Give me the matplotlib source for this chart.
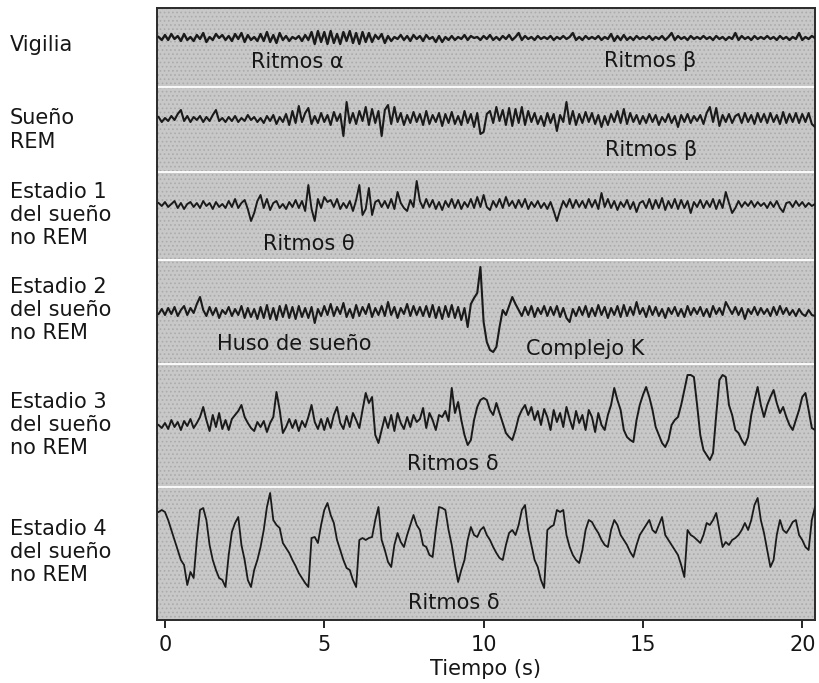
import numpy as np
import matplotlib
matplotlib.use("Agg")
import matplotlib.pyplot as plt
from matplotlib.patches import Rectangle

plt.rcParams["font.family"] = ["DejaVu Sans"]
plt.rcParams["hatch.linewidth"] = 0.7

# sampling of the traces (s)
T_START = -0.2
T_STEP = 0.1

# trace deflections (upward positive, arbitrary units)
vigilia = [
    1, -2,
    3, -2, 4, -1, 2, -3, 4, -2, 1, -3,
    3, -1, 5, -4, 1, -2, 4, 0, 3, -2,
    2, -3, 4, -1, 5, -4, 3, -2, 1, -3,
    4, -3, 6, -4, 3, -5, 5, -2, 2, -3,
    1, -1, 2, -3, 3, -2, 6, -6, 7, -4,
    6, -6, 7, -5, 4, -6, 6, -3, 7, -5,
    5, -6, 6, -4, 5, -4, 3, -1, 4, -5,
    2, -3, 1, -1, 3, -2, 2, -3, 3, -1,
    2, -3, 3, -1, 1, -4, 2, -4, 1, -2,
    2, -2, 1, -1, 3, -2, 2, 0, 1, -2,
    2, -1, 3, -2, 1, -2, 2, -1, 3, -2,
    1, 5, -2, 2, -1, 1, -2, 2, -1, 1,
    -1, 2, -2, 1, -1, 2, -1, 1, 5, -2,
    1, -2, 2, -1, 1, -1, 2, -2, 1, -1,
    4, -3, 2, -2, 3, -2, 1, -2, 2, -1,
    1, -1, 2, -2, 1, -1, 2, -2, 1, 5,
    -2, 2, -1, 1, -2, 2, -1, 1, -1, 2,
    -1, 1, -2, 2, -1, 1, -2, 1, -1, 5,
    -2, 2, -1, 1, -2, 2, -1, 1, -1, 2,
    -1, 1, -2, 2, -1, 1, -2, 1, -1, 5,
    -2, 1, -1, 2, 0,
]
sueno_rem = [
    2, -3,
    1, -2, 3, -1, 5, 9, -2, 3, -3, 2,
    -1, 3, -3, 2, -2, 4, 9, -2, 1, -3,
    2, -2, 3, -3, 1, -2, 4, -1, 2, -3,
    1, -4, 3, -2, 4, -5, 2, -3, 5, -6,
    8, -4, 13, -3, 6, 11, -5, 3, -4, 6,
    -3, 4, -6, 7, -2, 5, -17, 17, -4, 6,
    -5, 8, -2, 12, -6, 10, -4, 8, -17, 9,
    14, -5, 12, -3, 6, -6, 4, -4, 7, -3,
    5, -6, 8, -5, 4, -3, 6, -7, 5, -4,
    7, -5, 3, -6, 8, -4, 5, -8, 6, -15,
    -13, 5, 8, -4, 12, -2, 9, -6, 11, -7,
    10, -4, 12, -6, 8, -3, 6, -5, 3, -7,
    6, -4, 5, -12, 4, -3, 17, -5, 8, -6,
    5, -4, 7, -3, 6, -5, 4, -8, 3, -6,
    5, -3, 8, -4, 10, -5, 6, -3, 4, -5,
    3, -4, 5, -3, 4, -6, 2, -3, 5, -4,
    3, -8, 4, -3, 5, -4, 3, -2, 4, -5,
    6, 12, -3, 11, -7, 4, -3, 5, -4, 3,
    5, -4, 6, -3, 4, -5, 6, -3, 5, -4,
    6, -3, 4, -5, 7, -4, 5, -3, 6, -4,
    5, -3, 6, -5, -8,
]
estadio1 = [
    2, -1,
    3, -2, 1, 4, -3, 2, -4, 1, 3, -2,
    2, -3, 4, -1, 2, -4, 3, -2, 1, -3,
    4, -2, 6, -3, 2, 5, -4, -16, -8, 4,
    10, -3, 6, -5, 2, 4, -3, 1, -4, 3,
    -2, 5, -3, 4, -6, 20, -4, -16, 6, -3,
    8, 3, 5, -2, 6, -4, 2, -3, 4, -6,
    5, 20, -10, -4, 17, -10, 3, 5, -2, 4,
    -3, 6, -4, 13, 2, -3, -6, 5, -2, 24,
    4, -3, 6, -2, 5, -4, 3, -5, 4, -2,
    6, -3, 5, -4, 3, -2, 6, -3, 8, -2,
    10, -2, -5, 4, -2, 6, -3, 8, -1, 4,
    -3, 5, -2, 6, -4, 3, -2, 4, -3, 2,
    -4, 3, -6, -16, -5, 4, -2, 6, -3, 5,
    -2, 4, -3, 6, -2, 5, -4, 12, -2, 6,
    -3, 4, -5, 3, -2, 5, -4, 3, -7, 2,
    4, -3, 6, -4, 5, -3, 7, -5, 4, -3,
    6, -4, 5, -3, 4, -8, 3, -2, 5, -3,
    4, -2, 6, -4, 5, -3, 13, 2, -8, -3,
    4, -2, 3, -1, 4, -2, 3, -1, 2, -3,
    3, -2, 4, -3, -7, 2, 3, -2, 4, -1,
    3, -2, 2, -1, 1,
]
estadio2 = [
    -2, 3,
    -3, 4, -2, 5, -4, 2, 6, -3, 4, -1,
    8, 15, 2, -4, 5, -3, 4, -6, 2, -2,
    5, -4, 3, -3, 6, -6, 4, -5, 3, -7,
    5, -6, 7, -7, 4, -8, 6, -5, 7, -6,
    5, -7, 6, -5, 4, -6, 5, -11, 3, -4,
    6, -3, 8, -4, 5, -2, 9, -5, 3, -6,
    7, -4, 5, -2, 8, -5, 4, -3, 6, -4,
    10, -3, 5, -6, 4, -2, 8, -4, 6, -3,
    5, -4, 6, -5, 7, -6, 5, -7, 6, -5,
    7, -6, 5, -8, 4, -15, 8, 14, 19, 45,
    -10, -30, -38, -40, -35, -15, 2, -3, 6, 15,
    8, 2, -4, 5, -3, 6, -5, 4, -2, 6,
    -4, 5, -3, 6, -5, 4, -6, -10, 3, -4,
    5, -3, 6, -5, 4, -4, 7, -3, 5, -6,
    4, -3, 6, -5, 7, -4, 5, -3, 10, -2,
    4, -5, 6, -3, 5, -4, 3, -6, 4, -2,
    5, -4, 3, -5, 6, -3, 4, -2, 5, -4,
    3, -5, 6, -2, 4, -3, 10, 4, -2, 5,
    -3, 4, -7, 3, -2, 5, -3, 4, -2, 3,
    -4, 5, -3, 6, -2, 4, -3, 2, -4, 3,
    -2, -4, 2, -3, -4,
]
estadio3 = [
    0, -3,
    2, -4, 5, -2, 3, -5, 4, -1, 6, -3,
    2, 8, 18, 5, -6, 10, -2, 12, -4, 5,
    -5, 6, 10, 14, 20, 8, 2, -3, -6, 3,
    -2, 4, -7, 2, 8, 33, 15, -8, -2, 6,
    -3, 5, -6, 4, -2, 8, 20, 3, -4, 6,
    -5, 7, -3, 10, 18, 2, -4, 9, -2, 12,
    5, -3, 15, 32, 22, 28, -10, -18, -5, 8,
    -3, 10, -6, 12, 2, -4, 8, -2, 10, 3,
    6, 17, -3, 12, 5, -5, 10, 8, 14, 4,
    37, 12, 23, 5, -10, -20, -15, 5, 18, 25,
    27, 25, 15, 10, 22, 12, 2, -8, -12, -15,
    -5, 8, 15, 20, 10, 18, 5, 14, 0, 16,
    8, -5, 15, 3, 12, -2, 18, 6, -4, 14,
    2, 10, -5, 15, 8, -7, 12, 0, -5, 10,
    20, 37, 25, 15, -5, -12, -15, -17, 5, 20,
    30, 38, 28, 15, -2, -10, -18, -22, -15, 0,
    5, 8, 20, 35, 50, 50, 48, 20, -10, -25,
    -30, -35, -28, 10, 45, 50, 48, 20, 10, -5,
    -8, -15, -20, -12, 10, 25, 38, 20, 8, 20,
    28, 35, 22, 12, 18, 8, 0, -5, 5, 15,
    28, 32, 15, -3, -5,
]
estadio4 = [
    38, 40,
    38, 30, 20, 10, 0, -10, -15, -35, -22, -28,
    10, 40, 42, 30, 5, -10, -20, -28, -30, -37,
    -5, 18, 27, 33, 5, -10, -30, -37, -20, -10,
    3, 20, 43, 57, 30, 25, 22, 7, 2, -3,
    -10, -16, -23, -28, -33, -37, 12, 13, 7, 25,
    40, 47, 35, 27, 10, 0, -10, -18, -20, -30,
    -37, 10, 12, 10, 12, 13, 30, 43, 10, 0,
    -12, -17, 5, 17, 8, 3, 15, 25, 35, 25,
    20, 5, 3, -5, -7, 20, 43, 42, 40, 20,
    5, -15, -32, -20, -10, 10, 23, 15, 13, 20,
    23, 15, 10, 3, -3, -8, -10, 5, 17, 20,
    15, 25, 40, 45, 20, 5, -10, -17, -30, -38,
    20, 23, 25, 40, 38, 40, 15, 3, -5, -10,
    -13, 0, 20, 30, 28, 22, 17, 10, 5, 3,
    20, 30, 25, 15, 10, 5, -2, -7, 5, 15,
    20, 25, 30, 20, 17, 25, 33, 15, 10, 5,
    0, -5, -15, -27, 20, 15, 13, 10, 7, 15,
    27, 25, 30, 37, 20, 3, 8, 5, 10, 12,
    15, 20, 27, 20, 30, 45, 52, 30, 17, 0,
    -17, -10, 15, 30, 20, 17, 22, 28, 30, 15,
    10, 3, 0, 30, 43,
]

traces = [vigilia, sueno_rem, estadio1, estadio2, estadio3, estadio4]
stage_labels = [
    "Vigilia",
    "Sueño\nREM",
    "Estadio 1\ndel sueño\nno REM",
    "Estadio 2\ndel sueño\nno REM",
    "Estadio 3\ndel sueño\nno REM",
    "Estadio 4\ndel sueño\nno REM",
]
xticks = [0, 5, 10, 15, 20]

# layout (vertical positions in image pixels)
baselines = [38, 119, 205, 312, 425, 550]
line_widths = [1.7, 1.5, 1.4, 1.5, 1.4, 1.3]
separators = [87, 172, 260, 364, 487]
label_y = [45, 130, 215, 310, 425, 552]
notes = [
    ("Ritmos α", 297, 62),
    ("Ritmos β", 650, 61),
    ("Ritmos β", 651, 150),
    ("Ritmos θ", 309, 244),
    ("Huso de sueño", 294, 344),
    ("Complejo K", 585, 349),
    ("Ritmos δ", 453, 464),
    ("Ritmos δ", 454, 603),
]

W, H = 820, 683
fig = plt.figure(figsize=(W / 100, H / 100), dpi=100)
ax = fig.add_axes([157 / W, (H - 620) / H, 658 / W, 612 / H])

x0, x1 = -0.25, 20.4
ax.set_xlim(x0, x1)
ax.set_ylim(620, 8)

ax.add_patch(Rectangle((x0, 8), x1 - x0, 612, facecolor="#c8c8c8",
                       edgecolor="#ababab", hatch="....", lw=0, zorder=0))
for y in separators:
    ax.axhline(y, color="white", lw=1.3, zorder=1)

for vals, base, lw in zip(traces, baselines, line_widths):
    t = T_START + T_STEP * np.arange(len(vals))
    ax.plot(t, base - np.array(vals), color="#1a1a1a", lw=lw, zorder=3)

# pixel x -> seconds for the annotation positions
def px_to_t(px):
    return x0 + (px - 157) * (x1 - x0) / 658

for txt, px, py in notes:
    ax.text(px_to_t(px), py, txt, ha="center", va="center",
            fontsize=15, color="#161616", zorder=4)

for lab, py in zip(stage_labels, label_y):
    fig.text(10 / W, 1 - py / H, lab, ha="left", va="center",
             fontsize=15, linespacing=1.2, color="#161616")

ax.set_yticks([])
ax.set_xticks(xticks)
ax.set_xticklabels([str(v) for v in xticks], fontsize=15, color="#161616")
ax.tick_params(axis="x", direction="out", length=6, width=1.2, pad=5)
ax.set_xlabel("Tiempo (s)", fontsize=15, color="#161616", labelpad=3)
for side in ["left", "right", "top", "bottom"]:
    ax.spines[side].set_color("#2a2a2a")
    ax.spines[side].set_linewidth(1.4)

fig.savefig("out.png", dpi=100)
